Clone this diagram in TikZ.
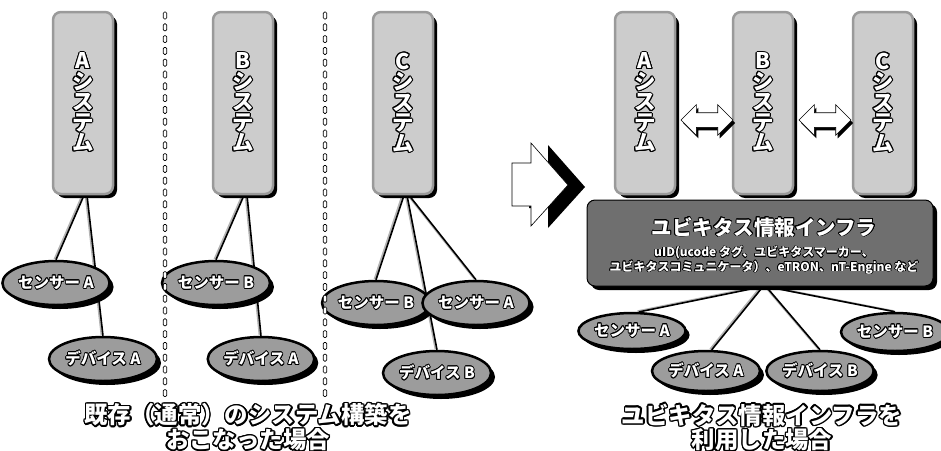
\documentclass[tikz,border=0pt]{standalone}
\usepackage{fontspec}
\setmainfont{Noto Sans CJK JP}
\usepackage{contour}
\usetikzlibrary{shapes.geometric,shapes.arrows,shadows,backgrounds,positioning}
\definecolor{panel}{HTML}{CCCCCC}
\definecolor{rim}{HTML}{9A9A9A}
\definecolor{oval}{HTML}{9C9C9C}
\definecolor{infra}{HTML}{6F6F6F}
\definecolor{wire}{HTML}{B4B4B4}
\newcommand{\ol}[1]{\contour{black}{#1}}
\newcommand{\vsys}[1]{\ol{#1}\\\ol{シ}\\\ol{ス}\\\ol{テ}\\\ol{ム}}

\begin{document}
\begin{tikzpicture}[x=1pt, y=-1pt, font=\bfseries,
  sh/.style={drop shadow={shadow xshift=4pt, shadow yshift=-4pt, fill=black, opacity=1}},
  sys/.style={draw=rim, line width=2.5pt, fill=panel, rounded corners=8pt, minimum width=60pt, minimum height=182pt, inner sep=0pt, align=center, text=white, font=\fontsize{21.5}{20.5}\selectfont\bfseries\contourlength{1pt}, sh},
  sen/.style={ellipse, draw=black, line width=2.5pt, fill=oval, minimum width=94pt, minimum height=44pt, inner sep=0pt, text=white, font=\fontsize{15.5}{15.5}\selectfont\bfseries\contourlength{0.8pt}, sh},
  dev/.style={sen, minimum width=108pt},
  hub/.style={draw=black, line width=1pt, fill=infra, rounded corners=8pt, minimum width=346pt, minimum height=86pt, sh},
  hubtext/.style={align=center, text=white, font=\fontsize{12}{13.5}\selectfont\bfseries\contourlength{0.6pt}},
  dbl/.style={double arrow, draw=black, line width=0.6pt, fill=white, minimum height=52pt, minimum width=0pt, inner xsep=0pt, inner ysep=7pt, double arrow head extend=8pt, drop shadow={shadow xshift=2pt, shadow yshift=-3pt, fill=black, opacity=1}},
  link/.style={line width=1.6pt, preaction={draw=wire, line width=2pt, transform canvas={shift={(-1.4pt,0.6pt)}}}},
  caption/.style={align=center, text=white, font=\fontsize{23.4}{23.5}\selectfont\bfseries\contourlength{1.4pt}},
  sepdash/.style={draw=black, line width=0.7pt, fill=white, rounded corners=1.2pt}]
\useasboundingbox (0,0) rectangle (941,450);

% separated systems
\foreach \n/\x in {A/83, B/243, C/403}
  \node[sys] (sys\n) at (\x,103) {\vsys{\n}};
\node[sen] (senA1) at (56,283) {\ol{センサー A}};
\node[dev] (devA1) at (103,359) {\ol{デバイス A}};
\node[sen] (senB2) at (216,283) {\ol{センサー B}};
\node[dev, minimum width=106pt] (devA2) at (261,359) {\ol{デバイス A}};
\node[sen] (senB3) at (376,303) {\ol{センサー B}};
\node[sen] (senA3) at (476,303) {\ol{センサー A}};
\node[dev] (devB3) at (437,373) {\ol{デバイス B}};

\foreach \x in {165,325}
  \foreach \y in {12,23.8,...,392}
    \draw[sepdash] (\x-1.7,\y) rectangle ++(3.4,7);

% transition arrow
\begin{scope}[shift={(17,2)}]
  \fill[black] (512,163) -- (531,163) -- (531,143) -- (568,185) -- (531,226) -- (531,206) -- (512,206) -- cycle;
\end{scope}
\draw[fill=white, line width=0.6pt] (512,163) -- (531,163) -- (531,143) -- (568,185) -- (531,226) -- (531,206) -- (512,206) -- cycle;

% shared infrastructure
\foreach \n/\x in {A/645, B/763, C/883}
  \node[sys] (u\n) at (\x,103) {\vsys{\n}};
\node[dbl] (ab) at (707,120) {};
\node[dbl] (bc) at (825,120) {};
\node[hub] (hub) at (760,243) {};
\node[hubtext] (hubt) at ([xshift=4pt, yshift=-3pt]hub.center) {\ol{\fontsize{20.5}{20.5}\selectfont ユビキタス情報インフラ}\\[8pt]
  \ol{uID(ucode タグ、ユビキタスマーカー、}\\
  \ol{ユビキタスコミュニケータ）、eTRON、nT-Engine など}};
\node[sen, minimum width=90pt, minimum height=36pt] (senA4) at (632,331) {\ol{センサー A}};
\node[dev, minimum height=40pt] (devA4) at (706,371) {\ol{デバイス A}};
\node[dev, minimum width=104pt, minimum height=40pt] (devB4) at (820,371) {\ol{デバイス B}};
\node[sen, minimum width=86pt, minimum height=38pt] (senB4) at (895,332) {\ol{センサー B}};

\begin{scope}[on background layer]
  \draw[link] ([xshift=1pt]sysA.south) -- (senA1.north);
  \draw[link] ([xshift=4pt]sysA.south) -- (devA1.north);
  \draw[link] ([xshift=1pt]sysB.south) -- (senB2.north);
  \draw[link] ([xshift=4pt]sysB.south) -- (devA2.north);
  \draw[link] ([xshift=1pt]sysC.south) -- (senB3.north);
  \draw[link] ([xshift=4pt]sysC.south) -- (devB3.north);
  \draw[link] ([xshift=6pt]sysC.south) -- (senA3.north);
  \draw[link] ([xshift=3pt]hub.south) -- (senA4.70);
  \draw[link] ([xshift=3pt]hub.south) -- (devA4.75);
  \draw[link] ([xshift=6pt]hub.south) -- (devB4.north);
  \draw[link] ([xshift=6pt]hub.south) -- (senB4.north);
\end{scope}

\node[caption] (capL) at (248,428) {\ol{既存（通常）のシステム構築を}\\\ol{おこなった場合}};
\node[caption] (capR) at (762,428) {\ol{ユビキタス情報インフラを}\\\ol{利用した場合}};
\end{tikzpicture}
\end{document}
